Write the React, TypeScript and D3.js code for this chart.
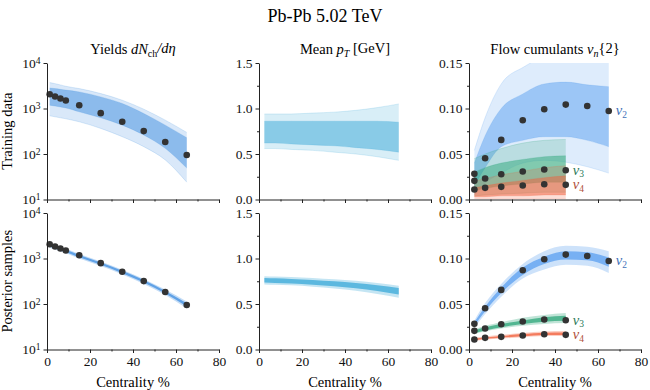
import React from 'react'
import * as d3 from 'd3'

// centrality bin midpoints (%)
const yieldCent = [1.25, 3.75, 6.25, 8.75, 15, 25, 35, 45, 55, 65]
const ptCent = [2.5, 7.5, 15, 25, 35, 45, 55, 65]
const flowCent = [2.5, 7.5, 15, 25, 35, 45, 55, 65]
const flowCentShort = [2.5, 7.5, 15, 25, 35, 45]

// experimental points
const yieldData = [2060, 1830, 1655, 1497, 1183, 791, 510, 319, 183, 95]
const v2Data = [0.0282, 0.0454, 0.0655, 0.0871, 0.0991, 0.1043, 0.1028, 0.0973]
const v3Data = [0.0205, 0.023, 0.0278, 0.0307, 0.0329, 0.0322]
const v4Data = [0.011, 0.0128, 0.0139, 0.0154, 0.0168, 0.0161]

// training design envelopes (outer lo, inner lo, inner hi, outer hi)
const yieldTrainOuterLo = [691, 657, 625, 594, 511, 365, 240, 145, 74, 24]
const yieldTrainInnerLo = [1183, 1130, 1080, 1030, 845, 625, 431, 261, 133, 49]
const yieldTrainInnerHi = [2835, 2740, 2640, 2540, 2317, 1800, 1288, 777, 431, 228]
const yieldTrainOuterHi = [3710, 3520, 3300, 3080, 2740, 2130, 1520, 967, 555, 298]

const ptTrainOuterLo = [0.56, 0.56, 0.55, 0.54, 0.52, 0.5, 0.47, 0.43]
const ptTrainInnerLo = [0.62, 0.62, 0.61, 0.6, 0.59, 0.57, 0.55, 0.52]
const ptTrainInnerHi = [0.86, 0.86, 0.86, 0.86, 0.86, 0.86, 0.86, 0.85]
const ptTrainOuterHi = [0.94, 0.94, 0.94, 0.95, 0.96, 0.98, 1.01, 1.05]

const v2TrainOuterLo = [0.005, 0.018, 0.029, 0.04, 0.043, 0.041, 0.036, 0.029]
const v2TrainInnerLo = [0.015, 0.035, 0.058, 0.065, 0.069, 0.069, 0.065, 0.058]
const v2TrainInnerHi = [0.04, 0.07, 0.1, 0.116, 0.127, 0.129, 0.126, 0.124]
const v2TrainOuterHi = [0.054, 0.09, 0.127, 0.145, 0.155, 0.155, 0.155, 0.152]

const v3TrainOuterLo = [0.004, 0.005, 0.006, 0.007, 0.008, 0.008]
const v3TrainInnerLo = [0.01, 0.012, 0.015, 0.017, 0.019, 0.019]
const v3TrainInnerHi = [0.03, 0.035, 0.04, 0.044, 0.047, 0.048]
const v3TrainOuterHi = [0.045, 0.05, 0.056, 0.062, 0.065, 0.066]

const v4TrainOuterLo = [0.001, 0.001, 0.001, 0.001, 0.001, 0.001]
const v4TrainInnerLo = [0.003, 0.003, 0.004, 0.004, 0.005, 0.005]
const v4TrainInnerHi = [0.013, 0.015, 0.018, 0.021, 0.024, 0.026]
const v4TrainOuterHi = [0.02, 0.023, 0.027, 0.031, 0.035, 0.037]

// posterior envelopes (outer lo, core lo, core hi, outer hi)
const yieldPostOuterLo = [1720, 1570, 1420, 1300, 1000, 680, 445, 275, 158, 80]
const yieldPostCoreLo = [1830, 1670, 1510, 1380, 1060, 725, 475, 296, 170, 88]
const yieldPostCoreHi = [2070, 1890, 1710, 1560, 1200, 815, 535, 335, 194, 104]
const yieldPostOuterHi = [2180, 1990, 1800, 1640, 1260, 860, 565, 355, 207, 113]

const ptPostOuterLo = [0.715, 0.712, 0.705, 0.69, 0.67, 0.645, 0.61, 0.57]
const ptPostCoreLo = [0.735, 0.732, 0.725, 0.712, 0.695, 0.672, 0.642, 0.605]
const ptPostCoreHi = [0.785, 0.782, 0.776, 0.765, 0.75, 0.73, 0.705, 0.675]
const ptPostOuterHi = [0.805, 0.802, 0.797, 0.787, 0.772, 0.755, 0.73, 0.7]

const v2PostOuterLo = [0.024, 0.039, 0.058, 0.078, 0.088, 0.093, 0.092, 0.084]
const v2PostCoreLo = [0.026, 0.042, 0.062, 0.082, 0.094, 0.099, 0.098, 0.091]
const v2PostCoreHi = [0.03, 0.047, 0.068, 0.09, 0.102, 0.108, 0.107, 0.101]
const v2PostOuterHi = [0.032, 0.051, 0.072, 0.094, 0.108, 0.114, 0.113, 0.108]

const v3PostOuterLo = [0.017, 0.02, 0.023, 0.026, 0.028, 0.029]
const v3PostCoreLo = [0.018, 0.021, 0.0245, 0.028, 0.0305, 0.0315]
const v3PostCoreHi = [0.021, 0.0245, 0.028, 0.032, 0.0355, 0.037]
const v3PostOuterHi = [0.022, 0.026, 0.03, 0.035, 0.038, 0.04]

const v4PostOuterLo = [0.0095, 0.011, 0.012, 0.0135, 0.0148, 0.0148]
const v4PostCoreLo = [0.01, 0.0117, 0.013, 0.0146, 0.016, 0.016]
const v4PostCoreHi = [0.012, 0.0133, 0.0149, 0.0169, 0.0185, 0.0187]
const v4PostOuterHi = [0.013, 0.0143, 0.0162, 0.0182, 0.0198, 0.0202]

const xMajor = [0, 20, 40, 60, 80]
const xMinor = [10, 30, 50, 70]

const font = "'Liberation Serif', 'DejaVu Serif', serif"
const colX = [47, 259, 469]
const rowY = [63, 213]
const pw = 172
const ph = 136.5

const cYield = '#3f8ee0'
const cPt = '#3aa8d8'
const cV2 = '#5a9ff0'
const cV3 = '#2ea77a'
const cV4 = '#f2603c'

function band (g: any, xs: number[], lo: number[], hi: number[], x: any, y: any, color: string, op: number) {
  const area = d3.area<number>()
    .x(function (d) { return x(d) })
    .y0(function (d, i) { return y(lo[i]) })
    .y1(function (d, i) { return y(hi[i]) })
    .curve(d3.curveMonotoneX)
  g.append('path').datum(xs).attr('d', area).attr('fill', color).attr('fill-opacity', op)
}

function line (g: any, xs: number[], vals: number[], x: any, y: any, color: string, op: number, w: number) {
  const l = d3.line<number>()
    .x(function (d) { return x(d) })
    .y(function (d, i) { return y(vals[i]) })
    .curve(d3.curveMonotoneX)
  g.append('path').datum(xs).attr('d', l).attr('fill', 'none')
    .attr('stroke', color).attr('stroke-opacity', op).attr('stroke-width', w)
}

function training (g: any, xs: number[], arr: number[][], x: any, y: any, color: string) {
  band(g, xs, arr[0], arr[3], x, y, color, 0.2)
  band(g, xs, arr[1], arr[2], x, y, color, 0.5)
  arr.forEach(function (a) { line(g, xs, a, x, y, color, 0.3, 0.6) })
}

function posterior (g: any, xs: number[], arr: number[][], x: any, y: any, color: string) {
  band(g, xs, arr[0], arr[3], x, y, color, 0.3)
  band(g, xs, arr[1], arr[2], x, y, color, 0.75)
}

function dots (g: any, xs: number[], vals: number[], x: any, y: any) {
  g.selectAll(null).data(xs).enter().append('circle')
    .attr('cx', function (d: number) { return x(d) })
    .attr('cy', function (d: number, i: number) { return y(vals[i]) })
    .attr('r', 3.3)
    .attr('fill', '#333')
}

function axes (g: any, x: any, y: any, yMajor: number[], yMinor: number[], fmt: any, showX: boolean) {
  const ax = g.append('g').attr('transform', 'translate(0,' + ph + ')')
  ax.call(d3.axisBottom(x).tickValues(xMajor).tickSize(3.5).tickSizeOuter(0).tickPadding(3)
    .tickFormat(showX ? d3.format('d') : (() => '')))
  ax.append('g').call(d3.axisBottom(x).tickValues(xMinor).tickSize(2).tickFormat(() => ''))
    .select('.domain').remove()
  const ay = g.append('g')
  ay.call(d3.axisLeft(y).tickValues(yMajor).tickSize(3.5).tickSizeOuter(0).tickPadding(3).tickFormat(fmt))
  if (yMinor.length) {
    ay.append('g').call(d3.axisLeft(y).tickValues(yMinor).tickSize(2).tickFormat(() => ''))
      .select('.domain').remove()
  }
  g.selectAll('.domain').attr('stroke', '#222').attr('stroke-width', 1)
  g.selectAll('.tick line').attr('stroke', '#222')
  g.selectAll('.tick text').attr('font-family', font).attr('font-size', 13.5).attr('fill', '#111')
  return ay
}

// 10^n labels for the log axis
function logLabels (ay: any) {
  ay.selectAll('.tick text').each(function (this: any, d: any) {
    const t = d3.select(this)
    const e = Math.round(Math.log10(d))
    t.text('10')
    t.append('tspan').attr('dy', '-0.45em').attr('font-size', 9.5).text(String(e))
  })
}

function vLabel (g: any, xpos: number, ypos: number, sub: string, color: string) {
  const t = g.append('text').attr('x', xpos).attr('y', ypos).attr('dy', '0.3em')
    .attr('font-family', font).attr('font-size', 14.5).attr('fill', color)
  t.append('tspan').attr('font-style', 'italic').text('v')
  t.append('tspan').attr('dy', '0.25em').attr('font-size', 9.5).text(sub)
}

class App extends React.Component {
  ref = React.createRef<SVGSVGElement>()

  componentDidMount () {
    const svg = d3.select(this.ref.current)
    svg.selectAll('*').remove()

    const x = d3.scaleLinear().domain([0, 80]).range([0, pw])
    const yLog = d3.scaleLog().domain([10, 1e4]).range([ph, 0])
    const yPt = d3.scaleLinear().domain([0, 1.5]).range([ph, 0])
    const yFlow = d3.scaleLinear().domain([0, 0.15]).range([ph, 0])

    const defs = svg.append('defs')
    defs.append('clipPath').attr('id', 'pclip').append('rect')
      .attr('x', 0).attr('y', 0).attr('width', pw).attr('height', ph)

    svg.append('text').attr('x', 325).attr('y', 22).attr('text-anchor', 'middle')
      .attr('font-family', font).attr('font-size', 18).text('Pb-Pb 5.02 TeV')

    // column titles
    const titleY = 54
    const t1 = svg.append('text').attr('x', colX[0] + pw / 2).attr('y', titleY).attr('text-anchor', 'middle')
      .attr('font-family', font).attr('font-size', 14.5)
    t1.append('tspan').text('Yields ')
    t1.append('tspan').attr('font-style', 'italic').text('dN')
    t1.append('tspan').attr('font-size', 10).attr('dy', '0.3em').text('ch')
    t1.append('tspan').attr('dy', '-0.3em').attr('font-style', 'italic').text('/d\u03b7')

    const t2 = svg.append('text').attr('x', colX[1] + pw / 2).attr('y', titleY).attr('text-anchor', 'middle')
      .attr('font-family', font).attr('font-size', 14.5)
    t2.append('tspan').text('Mean ')
    t2.append('tspan').attr('font-style', 'italic').text('p')
    t2.append('tspan').attr('font-style', 'italic').attr('font-size', 10).attr('dy', '0.3em').text('T')
    t2.append('tspan').attr('dy', '-0.3em').text(' [GeV]')

    const t3 = svg.append('text').attr('x', colX[2] + pw / 2).attr('y', titleY).attr('text-anchor', 'middle')
      .attr('font-family', font).attr('font-size', 14.5)
    t3.append('tspan').text('Flow cumulants ')
    t3.append('tspan').attr('font-style', 'italic').text('v')
    t3.append('tspan').attr('font-style', 'italic').attr('font-size', 10).attr('dy', '0.3em').text('n')
    t3.append('tspan').attr('dy', '-0.3em').text('{2}')

    // row labels
    const rowNames = ['Training data', 'Posterior samples']
    rowNames.forEach(function (name, r) {
      svg.append('text').attr('transform', 'translate(12,' + (rowY[r] + ph / 2) + ') rotate(-90)')
        .attr('text-anchor', 'middle').attr('font-family', font).attr('font-size', 14.5).text(name)
    })

    for (let r = 0; r < 2; r++) {
      const showX = r === 1
      const gs = colX.map(function (cx) {
        return svg.append('g').attr('transform', 'translate(' + cx + ',' + rowY[r] + ')')
      })
      const plots = gs.map(function (g) { return g.append('g').attr('clip-path', 'url(#pclip)') })

      if (r === 0) {
        training(plots[0], yieldCent, [yieldTrainOuterLo, yieldTrainInnerLo, yieldTrainInnerHi, yieldTrainOuterHi], x, yLog, cYield)
        training(plots[1], ptCent, [ptTrainOuterLo, ptTrainInnerLo, ptTrainInnerHi, ptTrainOuterHi], x, yPt, cPt)
        training(plots[2], flowCent, [v2TrainOuterLo, v2TrainInnerLo, v2TrainInnerHi, v2TrainOuterHi], x, yFlow, cV2)
        training(plots[2], flowCentShort, [v3TrainOuterLo, v3TrainInnerLo, v3TrainInnerHi, v3TrainOuterHi], x, yFlow, cV3)
        training(plots[2], flowCentShort, [v4TrainOuterLo, v4TrainInnerLo, v4TrainInnerHi, v4TrainOuterHi], x, yFlow, cV4)
      } else {
        posterior(plots[0], yieldCent, [yieldPostOuterLo, yieldPostCoreLo, yieldPostCoreHi, yieldPostOuterHi], x, yLog, cYield)
        posterior(plots[1], ptCent, [ptPostOuterLo, ptPostCoreLo, ptPostCoreHi, ptPostOuterHi], x, yPt, cPt)
        posterior(plots[2], flowCent, [v2PostOuterLo, v2PostCoreLo, v2PostCoreHi, v2PostOuterHi], x, yFlow, cV2)
        posterior(plots[2], flowCentShort, [v3PostOuterLo, v3PostCoreLo, v3PostCoreHi, v3PostOuterHi], x, yFlow, cV3)
        posterior(plots[2], flowCentShort, [v4PostOuterLo, v4PostCoreLo, v4PostCoreHi, v4PostOuterHi], x, yFlow, cV4)
      }

      dots(gs[0], yieldCent, yieldData, x, yLog)
      dots(gs[2], flowCent, v2Data, x, yFlow)
      dots(gs[2], flowCentShort, v3Data, x, yFlow)
      dots(gs[2], flowCentShort, v4Data, x, yFlow)

      const ayLog = axes(gs[0], x, yLog, [10, 100, 1000, 10000], [], d3.format('d'), showX)
      logLabels(ayLog)
      axes(gs[1], x, yPt, [0, 0.5, 1, 1.5], [0.25, 0.75, 1.25], d3.format('.1f'), showX)
      axes(gs[2], x, yFlow, [0, 0.05, 0.1, 0.15], [0.025, 0.075, 0.125], d3.format('.2f'), showX)

      const last2 = v2Data.length - 1
      const last3 = v3Data.length - 1
      vLabel(gs[2], x(flowCent[last2]) + 7, yFlow(v2Data[last2]), '2', '#3f72b8')
      vLabel(gs[2], x(flowCentShort[last3]) + 7, yFlow(v3Data[last3]), '3', '#2b7a58')
      vLabel(gs[2], x(flowCentShort[last3]) + 7, yFlow(v4Data[last3]), '4', '#b04e38')

      if (showX) {
        colX.forEach(function (cx) {
          svg.append('text').attr('x', cx + pw / 2).attr('y', 387).attr('text-anchor', 'middle')
            .attr('font-family', font).attr('font-size', 14.5).text('Centrality %')
        })
      }
    }
  }

  render () {
    return (
      <svg ref={this.ref} width={650} height={390}
        style={{ position: 'absolute', left: 0, top: 0, background: '#fff' }} />
    )
  }
}

export default App
